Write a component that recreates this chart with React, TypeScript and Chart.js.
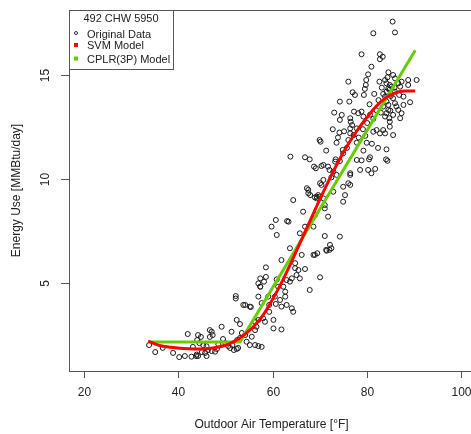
import React, { useEffect, useRef } from "react";
import { Chart, registerables } from "chart.js";

Chart.register(...registerables);

const chartTitle = "492 CHW 5950";
const xTitle = "Outdoor Air Temperature [°F]";
const yTitle = "Energy Use [MMBtu/day]";
const xTicks = [20, 40, 60, 80, 100];
const yTicks = [5, 10, 15];
const legendLabels = ["Original Data", "SVM Model", "CPLR(3P) Model"];

// Original data: outdoor air temperature [°F]
const tempData = [
  33.8, 35.1, 36.7, 38.9, 40.2, 41.4, 42.0, 43.1, 43.8, 44.2, 44.2, 44.8, 44.0, 45.0, 45.7, 46.0, 46.7, 47.1, 46.7, 47.3,
  46.3, 47.1, 47.8, 48.2, 49.2, 49.5, 50.6, 51.0, 51.3, 51.5, 51.8, 52.4, 52.7, 52.4, 53.1, 52.5, 53.1, 52.2, 52.2, 54.2,
  55.4, 53.5, 54.2, 54.5, 55.2, 56.3, 57.0, 57.7, 55.6, 56.3, 56.6, 57.0, 58.4, 57.0, 57.4, 57.0, 57.7, 58.6, 59.1, 59.3,
  59.3, 44.5, 45.3, 48.5, 50.0, 46.0, 42.8, 43.9,
  64.4, 66.5, 67.6, 68.0, 69.4, 70.0, 71.1, 71.1, 71.8, 72.1, 70.1, 67.9, 59.8, 60.7, 60.9, 63.4, 63.7, 65.8, 66.2, 68.7,
  69.5, 71.5, 72.2, 61.9, 58.6, 64.8, 64.8, 65.5, 65.1, 64.1, 63.7, 63.0, 66.9, 65.8, 57.4, 57.4, 58.2, 60.9, 61.2, 60.5,
  61.6, 62.7, 62.7, 62.3, 60.7, 61.9, 63.0, 64.1, 64.4, 53.8, 55.2, 58.0, 60.2, 56.3, 60.2, 61.9, 63.8, 63.1,
  74.3, 76.3, 73.1, 74.7, 74.3, 77.3, 78.2, 78.9, 79.3, 76.5, 76.9, 76.5, 76.5, 77.2, 76.1, 77.9, 72.8, 74.2, 70.0, 70.2,
  73.6, 71.4, 74.9, 75.0, 73.4, 73.3, 74.3, 77.9, 80.0, 79.7, 77.9, 78.6, 80.3, 66.9, 67.9, 68.8, 69.2, 70.4, 70.8, 71.8,
  72.1, 72.9, 70.8, 70.4, 70.1, 72.5, 73.6, 76.5, 76.1, 72.9, 75.0, 75.4, 75.0, 67.3, 67.6, 69.0, 69.4, 69.7, 70.8, 66.9,
  69.0, 68.7, 71.1, 74.3, 72.5, 71.4, 69.0,
  85.5, 81.4, 86.0, 78.9, 82.8, 83.4, 82.8, 81.0, 80.3, 79.9, 79.8, 79.6, 76.1, 77.0, 77.5, 79.4, 84.6, 82.7, 83.9, 85.6,
  86.0, 87.4, 88.8, 88.8, 90.6, 84.2, 84.9, 85.3, 84.6, 84.2, 83.5, 83.9, 86.7, 87.1, 86.0, 86.9, 87.8, 85.6, 84.2, 84.6,
  83.5, 84.6, 84.2, 83.9, 84.8, 85.6, 84.9, 86.0, 87.8, 86.7, 87.4, 89.2, 76.6, 80.7, 81.4, 82.1,
  84.2, 84.1, 84.4, 80.7, 80.5, 79.3, 81.0, 81.8, 76.5, 87.1, 85.6, 84.9, 83.5, 83.9, 82.8, 82.1, 81.4, 76.5,
  84.8, 85.1, 85.9, 84.4, 83.2, 86.3, 85.0, 83.0, 82.5, 81.6, 80.6, 79.2, 78.3, 80.1, 81.1, 82.4, 75.8, 75.2, 73.9, 78.9,
];

// Original data: energy use [MMBtu/day]
const energyData = [
  2.01, 1.67, 1.87, 1.63, 1.43, 1.48, 2.54, 1.92, 1.48, 1.48, 2.49, 2.40, 2.25, 1.67, 1.63, 1.48, 2.73, 2.65, 2.40, 2.49,
  1.77, 1.72, 1.69, 1.82, 2.89, 2.30, 1.96, 1.87, 2.65, 2.01, 1.77, 1.82, 1.87, 3.22, 3.02, 2.25, 2.35, 4.37, 4.25, 3.94,
  3.84, 2.59, 2.49, 2.17, 2.01, 2.01, 1.96, 1.92, 2.41, 2.73, 2.89, 3.22, 3.13, 4.98, 4.82, 4.34, 4.03, 5.29, 4.34, 3.94,
  3.61, 2.10, 2.00, 2.05, 2.10, 1.95, 1.45, 1.55,
  8.99, 8.43, 9.32, 9.23, 9.15, 9.15, 8.75, 8.59, 8.19, 6.59, 5.27, 4.66, 7.71, 8.03, 7.31, 7.95, 6.67, 7.39, 6.35, 6.35,
  6.43, 6.55, 6.83, 6.10, 5.75, 5.95, 5.71, 5.62, 5.38, 5.22, 5.06, 5.14, 5.67, 5.22, 5.22, 4.82, 5.06, 5.17, 4.82, 4.34,
  4.18, 4.34, 4.58, 4.82, 3.99, 3.86, 3.94, 3.78, 3.61, 3.94, 3.86, 3.30, 3.22, 3.13, 2.81, 2.76, 11.08, 7.98,
  13.73, 13.73, 13.20, 13.09, 12.85, 13.25, 13.17, 13.25, 13.01, 12.93, 12.60, 12.44, 12.20, 12.12, 11.88, 12.44, 12.40, 12.24, 11.88, 11.80,
  11.75, 11.37, 11.40, 11.24, 10.95, 10.84, 10.87, 11.75, 11.75, 12.08, 10.92, 10.44, 10.44, 11.05, 10.95, 10.60, 10.52, 10.63, 10.68, 10.60,
  10.44, 10.36, 9.96, 9.72, 9.80, 10.08, 10.20, 10.20, 9.80, 9.39, 9.63, 9.23, 8.91, 9.56, 9.48, 9.12, 9.07, 9.23, 9.07, 7.71,
  8.27, 7.71, 7.26, 7.23, 6.67, 6.59, 6.35,
  17.58, 17.02, 17.06, 16.01, 16.01, 15.89, 15.77, 15.41, 15.04, 14.77, 14.53, 14.34, 14.69, 14.18, 14.05, 14.05, 15.14, 14.69, 14.77, 15.01,
  14.85, 14.69, 14.77, 14.53, 14.77, 14.61, 14.53, 14.45, 14.37, 14.21, 14.10, 13.97, 14.61, 14.45, 14.21, 14.05, 13.97, 13.89, 13.73, 13.57,
  13.49, 13.33, 13.17, 13.01, 12.93, 13.09, 12.76, 13.65, 13.57, 13.33, 13.17, 13.70, 12.76, 13.10, 12.90, 13.30,
  11.43, 10.95, 10.88, 11.05, 10.95, 11.37, 10.28, 10.49, 10.28, 12.93, 12.12, 12.52, 12.36, 12.20, 12.20, 12.36, 12.28, 9.72,
  14.30, 14.00, 14.40, 14.90, 14.40, 13.50, 13.30, 13.20, 13.80, 14.10, 13.60, 12.40, 12.00, 12.70, 11.70, 11.50, 11.50, 12.30, 12.00, 10.90,
];

// SVM model curve
const svmTemp = [33.6, 36.0, 38.5, 41.0, 43.5, 46.0, 48.0, 50.0, 52.0, 54.0, 56.0, 58.0, 60.0, 62.0, 64.0, 66.0, 68.0, 70.0, 72.0, 74.0, 76.0, 78.0, 80.0, 82.0, 84.0, 86.0, 88.0, 90.3];
const svmEnergy = [2.2, 1.99, 1.9, 1.84, 1.82, 1.83, 1.89, 2.0, 2.2, 2.5, 2.9, 3.45, 4.2, 5.05, 6.0, 7.0, 8.0, 9.0, 9.95, 10.85, 11.65, 12.35, 12.95, 13.5, 13.9, 14.15, 14.24, 14.24];

// CPLR(3P) change-point model
const cplrTemp = [33.6, 53.1, 90.3];
const cplrEnergy = [2.16, 2.16, 16.2];

const X_MIN = 16.8;
const X_MAX = 103.2;
const Y_MIN = 0.76;
const Y_MAX = 18.14;

const FONT = '"Liberation Sans", Arial, sans-serif';

export default function App() {
  const ref = useRef<HTMLCanvasElement | null>(null);

  useEffect(() => {
    const canvas = ref.current;
    if (!canvas) return;

    const overlay = {
      id: "rOverlay",
      afterDraw(chart: any) {
        const ctx = chart.ctx as CanvasRenderingContext2D;
        const { left, right, top, bottom } = chart.chartArea;
        const xs = chart.scales.x;
        const ys = chart.scales.y;
        ctx.save();
        // frame
        ctx.strokeStyle = "#555";
        ctx.lineWidth = 1;
        ctx.strokeRect(Math.round(left) + 0.5, Math.round(top) + 0.5, Math.round(right - left), Math.round(bottom - top));
        // x ticks
        ctx.fillStyle = "#222";
        ctx.font = `12px ${FONT}`;
        ctx.textAlign = "center";
        ctx.textBaseline = "middle";
        for (const t of xTicks) {
          const px = Math.round(xs.getPixelForValue(t)) + 0.5;
          ctx.beginPath();
          ctx.moveTo(px, bottom);
          ctx.lineTo(px, bottom + 7);
          ctx.stroke();
          ctx.fillText(String(t), px, bottom + 22);
        }
        for (const t of yTicks) {
          const py = Math.round(ys.getPixelForValue(t)) + 0.5;
          ctx.beginPath();
          ctx.moveTo(left, py);
          ctx.lineTo(left - 8, py);
          ctx.stroke();
          ctx.save();
          ctx.translate(left - 23, py);
          ctx.rotate(-Math.PI / 2);
          ctx.fillText(String(t), 0, 0);
          ctx.restore();
        }
        // titles
        ctx.fillText(xTitle, (left + right) / 2 - 1, bottom + 54);
        ctx.save();
        ctx.translate(17, (top + bottom) / 2);
        ctx.rotate(-Math.PI / 2);
        ctx.fillText(yTitle, 0, 0);
        ctx.restore();

        // legend box
        const lx = left, ly = top, lw = 104, lh = 59;
        ctx.fillStyle = "#fff";
        ctx.fillRect(lx, ly, lw, lh);
        ctx.strokeStyle = "#555";
        ctx.strokeRect(Math.round(lx) + 0.5, Math.round(ly) + 0.5, lw, lh);
        ctx.fillStyle = "#222";
        ctx.font = `11px ${FONT}`;
        ctx.textAlign = "center";
        ctx.fillText(chartTitle, lx + 52, ly + 9);
        ctx.textAlign = "left";
        const rows = [ly + 24.5, ly + 36, ly + 49.5];
        // circle symbol
        ctx.strokeStyle = "#333";
        ctx.beginPath();
        ctx.arc(lx + 7, rows[0] - 1.5, 1.5, 0, Math.PI * 2);
        ctx.stroke();
        ctx.fillStyle = "#ff0000";
        ctx.fillRect(lx + 5, rows[1] - 3, 4, 4);
        ctx.fillStyle = "#66cd00";
        ctx.fillRect(lx + 5, rows[2] - 3, 4, 4);
        ctx.fillStyle = "#222";
        legendLabels.forEach((lab, i) => ctx.fillText(lab, lx + 18, rows[i]));
        ctx.restore();
      },
    };

    const chart = new Chart(canvas, {
      type: "scatter",
      data: {
        datasets: [
          {
            label: legendLabels[1],
            type: "line",
            data: svmTemp.map((x, i) => ({ x, y: svmEnergy[i] })),
            borderColor: "#ff0000",
            borderWidth: 3,
            pointRadius: 0,
            cubicInterpolationMode: "monotone",
            fill: false,
          },
          {
            label: legendLabels[2],
            type: "line",
            data: cplrTemp.map((x, i) => ({ x, y: cplrEnergy[i] })),
            borderColor: "#66cd00",
            borderWidth: 3,
            pointRadius: 0,
            tension: 0,
            fill: false,
          },
          {
            label: legendLabels[0],
            data: tempData.map((x, i) => ({ x, y: energyData[i] })),
            pointStyle: "circle",
            pointRadius: 2.5,
            borderWidth: 1,
            borderColor: "#1a1a1a",
            backgroundColor: "rgba(0,0,0,0)",
          },
        ],
      },
      options: {
        responsive: false,
        animation: false,
        events: [],
        layout: { padding: { left: 69, top: 10, right: 490 - 476, bottom: 63 } },
        plugins: { legend: { display: false }, tooltip: { enabled: false } },
        scales: {
          x: { type: "linear", min: X_MIN, max: X_MAX, display: false },
          y: { type: "linear", min: Y_MIN, max: Y_MAX, display: false },
        },
      },
      plugins: [overlay],
    });
    return () => chart.destroy();
  }, []);

  return (
    <div style={{ position: "fixed", left: 0, top: 0, width: 471, height: 434, overflow: "hidden", background: "#fff" }}>
      <canvas ref={ref} width={490} height={434} style={{ display: "block" }} />
    </div>
  );
}
